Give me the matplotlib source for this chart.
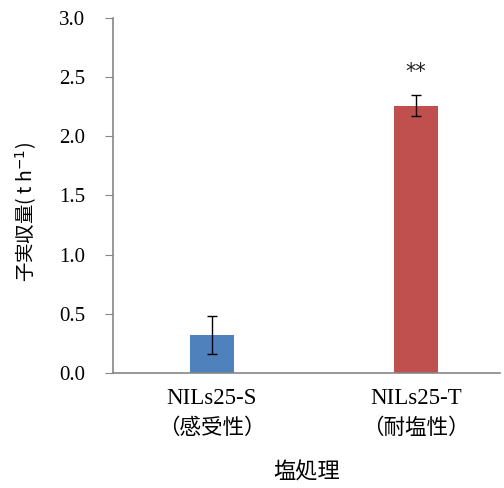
import numpy as np
import matplotlib
matplotlib.use('Agg')
import matplotlib.pyplot as plt

plt.rcParams['font.family'] = ['Noto Sans CJK JP', 'DejaVu Sans']

lines = ['NILs25-S', 'NILs25-T']
traits = ['（感受性）', '（耐塩性）']
yields = [0.32, 2.26]
errs = [0.16, 0.085]
marks = ['', '**']
colors = ['#4F81BD', '#C0504D']
yticks = [0.0, 0.5, 1.0, 1.5, 2.0, 2.5, 3.0]

fig = plt.figure(figsize=(5.04, 4.88), dpi=100)
ax = fig.add_axes([0.224, 0.2357, 0.768, 0.7275])

x = np.arange(len(lines))
ax.bar(x, yields, width=0.216, color=colors, zorder=2)
ax.errorbar(x, yields, yerr=errs, fmt='none', ecolor='black', elinewidth=1,
            capsize=3.6, capthick=1, zorder=3)
for xi, v, e, m in zip(x, yields, errs, marks):
    if m:
        ax.text(xi, v + e + 0.2, m, ha='center', va='center', fontsize=15,
                family='DejaVu Sans', color='#222222')

ax.set_xlim(-0.485, 1.41)
ax.set_ylim(0, 3.0)
ax.set_yticks(yticks)
ax.set_yticklabels(['%.1f' % t for t in yticks], family='Liberation Serif',
                   fontsize=15)
ax.set_xticks(x)
ax.set_xticklabels(lines, family='Liberation Serif', fontsize=16.5)
ax.tick_params(axis='x', length=0, pad=11)
ax.tick_params(axis='y', direction='out', length=6, color='#868686', pad=14)

for s in ['top', 'right']:
    ax.spines[s].set_visible(False)
for s in ['left', 'bottom']:
    ax.spines[s].set_color('#868686')
    ax.spines[s].set_linewidth(1.2)

for xi, t in zip(x, traits):
    ax.text(xi, -0.465, t, ha='center', va='center', fontsize=15.5,
            clip_on=False)

ax.text(0.5, -0.279, '塩処理', transform=ax.transAxes, ha='center',
        va='center', fontsize=16)
fig.text(26 / 504, 1 - 212 / 488, '子実収量( t h$^{-1}$)', rotation=90,
         ha='center', va='center', fontsize=14)

fig.savefig('out.png', dpi=100)
